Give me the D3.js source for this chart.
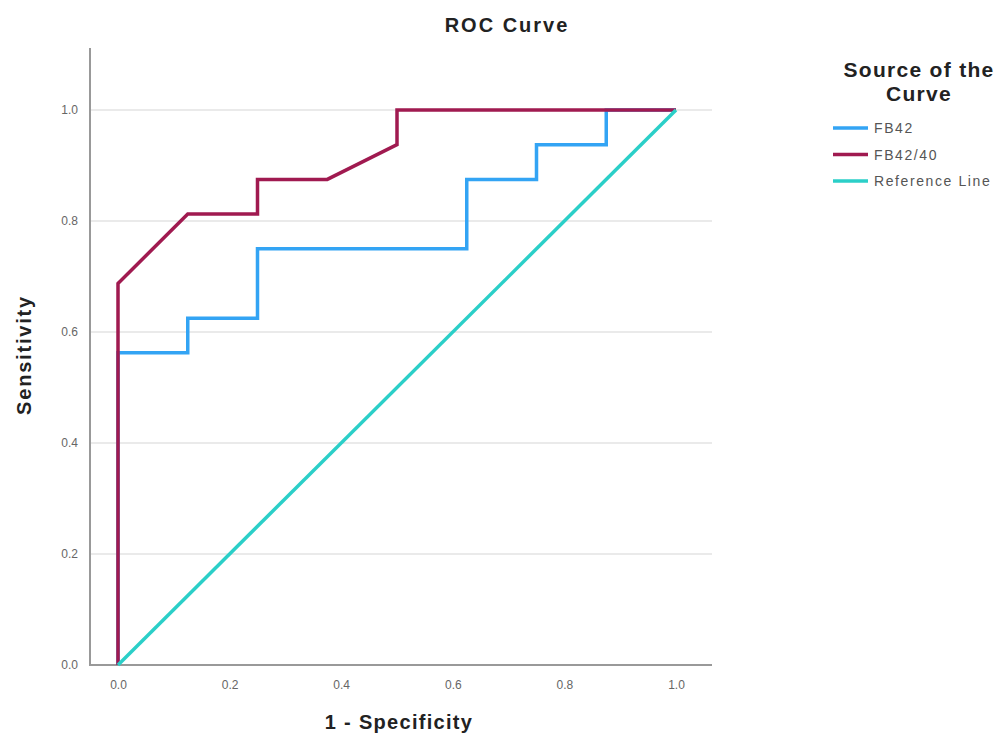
<!DOCTYPE html>
<html><head><meta charset="utf-8">
<script src="https://cdn.jsdelivr.net/npm/d3@7"></script>
<style>body{margin:0;background:#fff}svg{display:block}</style>
</head><body>
<script>
const xTicks = [0, 0.2, 0.4, 0.6, 0.8, 1.0];
const yTicks = [0, 0.2, 0.4, 0.6, 0.8, 1.0];
const seriesNames = ["FB42", "FB42/40", "Reference Line"];
const seriesColors = ["#33a4f4", "#a01a50", "#2bcfc8"];
const fb42X = [0, 0, 0.125, 0.125, 0.25, 0.25, 0.625, 0.625, 0.75, 0.75, 0.875, 0.875, 1];
const fb42Y = [0, 0.5625, 0.5625, 0.625, 0.625, 0.75, 0.75, 0.875, 0.875, 0.9375, 0.9375, 1, 1];
const fb4240X = [0, 0, 0.125, 0.25, 0.25, 0.375, 0.5, 0.5, 1];
const fb4240Y = [0, 0.6875, 0.8125, 0.8125, 0.875, 0.875, 0.9375, 1, 1];
const refX = [0, 1];
const refY = [0, 1];

const W = 1000, H = 738;
const svg = d3.select("body").append("svg").attr("width", W).attr("height", H);
const x = d3.scaleLinear().domain([0, 1]).range([118, 676]);
const y = d3.scaleLinear().domain([0, 1]).range([665, 110]);
const x0 = 90, x1 = 712, yTop = 48, yBot = 665;

// gridlines
svg.append("g").selectAll("line").data(yTicks.filter(d => d > 0)).join("line")
  .attr("x1", x0).attr("x2", x1).attr("y1", d => y(d)).attr("y2", d => y(d))
  .attr("stroke", "#e3e3e3").attr("stroke-width", 1.5);

// axes
const fmt = d3.format(".1f");
const yAxis = svg.append("g").attr("transform", `translate(${x0},0)`)
  .call(d3.axisLeft(y).tickValues(yTicks).tickFormat(fmt).tickSize(0).tickPadding(12));
const xAxis = svg.append("g").attr("transform", `translate(0,${yBot})`)
  .call(d3.axisBottom(x).tickValues(xTicks).tickFormat(fmt).tickSize(0).tickPadding(15));
[yAxis, xAxis].forEach(a => {
  a.select(".domain").remove();
  a.selectAll("text").attr("fill", "#666").style("font-family", "Liberation Sans, Arial, sans-serif").style("font-size", "12px");
});
svg.append("line").attr("x1", x0).attr("x2", x0).attr("y1", yTop).attr("y2", yBot + 1)
  .attr("stroke", "#999").attr("stroke-width", 2);
svg.append("line").attr("x1", x0 - 1).attr("x2", x1).attr("y1", yBot).attr("y2", yBot)
  .attr("stroke", "#999").attr("stroke-width", 2);

// curves
const line = d3.line().x(d => x(d[0])).y(d => y(d[1]));
const data = [
  d3.zip(fb42X, fb42Y),
  d3.zip(fb4240X, fb4240Y),
  d3.zip(refX, refY)
];
svg.append("g").selectAll("path").data(data).join("path")
  .attr("d", line).attr("fill", "none")
  .attr("stroke", (d, i) => seriesColors[i]).attr("stroke-width", 3.5)
  .attr("stroke-linejoin", "miter");

// titles
const ff = "Liberation Sans, Arial, sans-serif";
function boldText(sel, size, ls) {
  return sel.style("font-family", ff).style("font-weight", "bold").style("font-size", size + "px")
    .style("letter-spacing", ls + "px").attr("fill", "#222");
}
boldText(svg.append("text").attr("x", 507).attr("y", 32).attr("text-anchor", "middle"), 20, 2)
  .text("ROC Curve");
boldText(svg.append("text").attr("x", 399).attr("y", 729).attr("text-anchor", "middle"), 20, 1.3)
  .text("1 - Specificity");
boldText(svg.append("text").attr("transform", "translate(31,355) rotate(-90)").attr("text-anchor", "middle"), 20, 1.8)
  .text("Sensitivity");

// legend
const lg = svg.append("g");
boldText(lg.append("text").attr("x", 919).attr("y", 77).attr("text-anchor", "middle"), 21, 1.3)
  .text("Source of the");
boldText(lg.append("text").attr("x", 919).attr("y", 101).attr("text-anchor", "middle"), 21, 1.3)
  .text("Curve");
const items = lg.selectAll("g.item").data(seriesNames).join("g").attr("class", "item")
  .attr("transform", (d, i) => `translate(0,${128 + i * 26.5})`);
items.append("line").attr("x1", 833).attr("x2", 868).attr("y1", 0).attr("y2", 0)
  .attr("stroke", (d, i) => seriesColors[i]).attr("stroke-width", 3.5);
items.append("text").attr("x", 874).attr("y", 5)
  .style("font-family", ff).style("font-size", "14px").style("letter-spacing", "1.6px").attr("fill", "#555")
  .text(d => d);
</script>
</body></html>
